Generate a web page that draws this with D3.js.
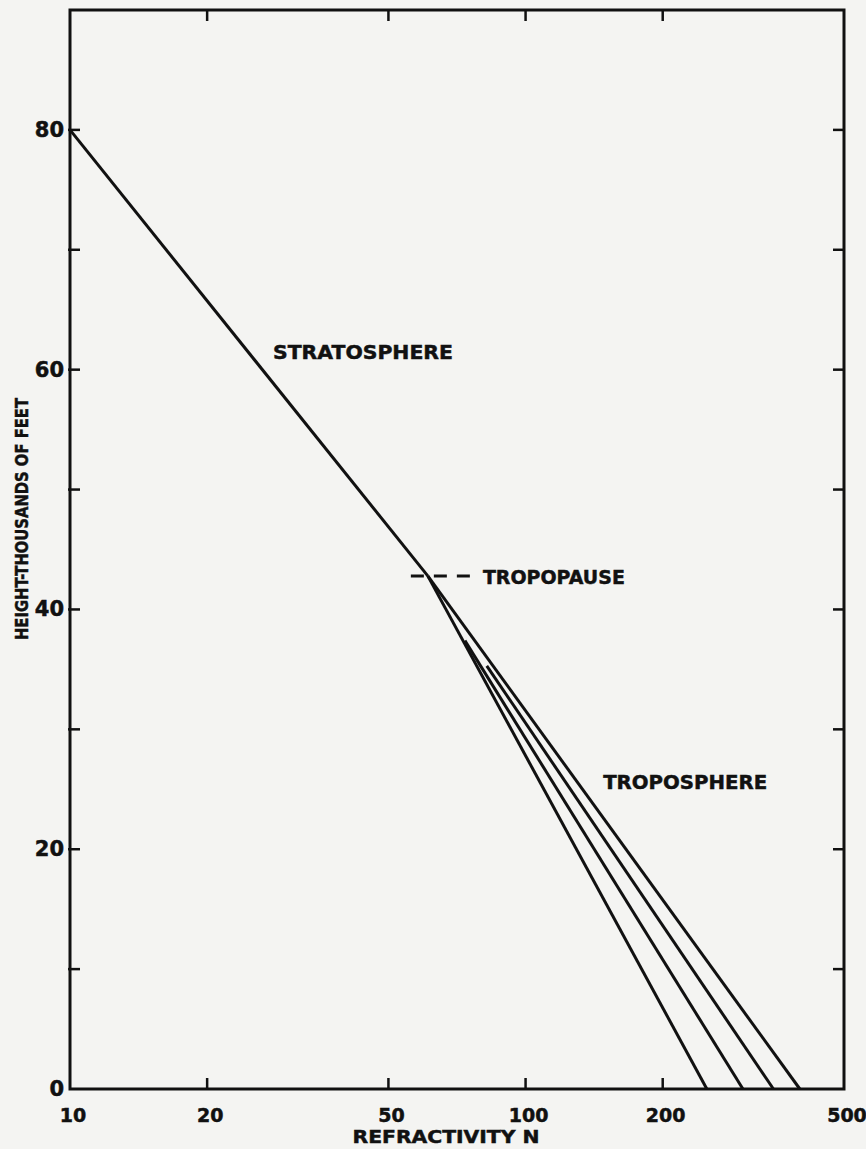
<!doctype html>
<html>
<head>
<meta charset="utf-8">
<title>Refractivity vs height</title>
<script src="https://cdnjs.cloudflare.com/ajax/libs/d3/7.8.5/d3.min.js"></script>
<style>
  body { margin: 0; background: #f4f4f2; }
  svg text { font-family: "DejaVu Sans", sans-serif; font-weight: bold; fill: #111; stroke: #111; stroke-width: 0.5px; }
</style>
</head>
<body>
<div id="chart"></div>
<script>
  // stratosphere segment (N, height in kft)
  const stratN = [10, 61];
  const stratH = [80, 42.8];

  // troposphere profiles: surface refractivity and where each joins the upper line
  const surfaceN = [250, 300, 350, 400];
  const topN = [61, 73.6, 82.2, 61];
  const topH = [42.8, 37.4, 35.3, 42.8];

  // tropopause marker
  const tropoN = [56, 76];
  const tropoH = 42.8;

  const xTicks = [10, 20, 50, 100, 200, 500];
  const yTicks = [0, 10, 20, 30, 40, 50, 60, 70, 80];
  const yLabels = [0, 20, 40, 60, 80];

  const width = 866, height = 1149;
  const margin = {top: 10, right: 22, bottom: 60, left: 70};

  const x = d3.scaleLog().domain([10, 500]).range([margin.left, width - margin.right]);
  const y = d3.scaleLinear().domain([0, 90]).range([height - margin.bottom, margin.top]);

  const svg = d3.select('#chart').append('svg')
    .attr('width', width)
    .attr('height', height);

  const ink = '#111';

  // frame
  svg.append('rect')
    .attr('x', x(10)).attr('y', y(90))
    .attr('width', x(500) - x(10)).attr('height', y(0) - y(90))
    .attr('fill', 'none').attr('stroke', ink).attr('stroke-width', 3);

  const inner = xTicks.slice(1, -1);

  // ticks, all pointing inward
  svg.append('g').selectAll('line').data(inner).join('line')
    .attr('x1', d => x(d)).attr('x2', d => x(d))
    .attr('y1', y(0)).attr('y2', y(0) - 11)
    .attr('stroke', ink).attr('stroke-width', 2.5);
  svg.append('g').selectAll('line').data(inner).join('line')
    .attr('x1', d => x(d)).attr('x2', d => x(d))
    .attr('y1', y(90)).attr('y2', y(90) + 11)
    .attr('stroke', ink).attr('stroke-width', 2.5);
  svg.append('g').selectAll('line').data(yTicks.slice(1)).join('line')
    .attr('x1', x(10) - 2).attr('x2', x(10) + 10)
    .attr('y1', d => y(d)).attr('y2', d => y(d))
    .attr('stroke', ink).attr('stroke-width', 2.5);
  svg.append('g').selectAll('line').data(yTicks.slice(1)).join('line')
    .attr('x1', x(500)).attr('x2', x(500) - 11)
    .attr('y1', d => y(d)).attr('y2', d => y(d))
    .attr('stroke', ink).attr('stroke-width', 2.5);

  // tick labels
  svg.append('g').selectAll('text').data(xTicks).join('text')
    .attr('x', d => x(d) + 3).attr('y', y(0) + 33)
    .attr('text-anchor', 'middle')
    .style('font-size', '19px')
    .text(d => d);
  svg.append('g').selectAll('text').data(yLabels).join('text')
    .attr('x', x(10) - 6).attr('y', d => y(d) + 7)
    .attr('text-anchor', 'end')
    .style('font-size', '21px')
    .text(d => d);

  // axis titles
  svg.append('text')
    .attr('x', 446).attr('y', y(0) + 54)
    .attr('text-anchor', 'middle')
    .attr('textLength', 187).attr('lengthAdjust', 'spacingAndGlyphs')
    .style('font-size', '18px')
    .text('REFRACTIVITY N');
  svg.append('text')
    .attr('transform', 'translate(28,519) rotate(-90)')
    .attr('text-anchor', 'middle')
    .attr('textLength', 242).attr('lengthAdjust', 'spacingAndGlyphs')
    .style('font-size', '18px')
    .text('HEIGHT-THOUSANDS OF FEET');

  // profile lines
  const lines = svg.append('g')
    .attr('stroke', ink).attr('stroke-width', 3).attr('fill', 'none');
  lines.append('line')
    .attr('x1', x(stratN[0])).attr('y1', y(stratH[0]))
    .attr('x2', x(stratN[1])).attr('y2', y(stratH[1]));
  lines.selectAll('line.tropo').data(surfaceN).join('line')
    .attr('class', 'tropo')
    .attr('x1', (d, i) => x(topN[i])).attr('y1', (d, i) => y(topH[i]))
    .attr('x2', d => x(d)).attr('y2', y(0));

  // tropopause marker
  svg.append('line')
    .attr('x1', x(tropoN[0])).attr('x2', x(tropoN[1]))
    .attr('y1', y(tropoH)).attr('y2', y(tropoH))
    .attr('stroke', ink).attr('stroke-width', 3)
    .attr('stroke-dasharray', '13,10');

  // region labels
  svg.append('text')
    .attr('x', x(80.6)).attr('y', y(tropoH) + 8)
    .attr('textLength', 142).attr('lengthAdjust', 'spacingAndGlyphs')
    .style('font-size', '20px')
    .text('TROPOPAUSE');
  svg.append('text')
    .attr('x', x(27.9)).attr('y', y(60.9))
    .attr('textLength', 180).attr('lengthAdjust', 'spacingAndGlyphs')
    .style('font-size', '20px')
    .text('STRATOSPHERE');
  svg.append('text')
    .attr('x', x(148)).attr('y', y(25))
    .attr('textLength', 164).attr('lengthAdjust', 'spacingAndGlyphs')
    .style('font-size', '20px')
    .text('TROPOSPHERE');
</script>
</body>
</html>
